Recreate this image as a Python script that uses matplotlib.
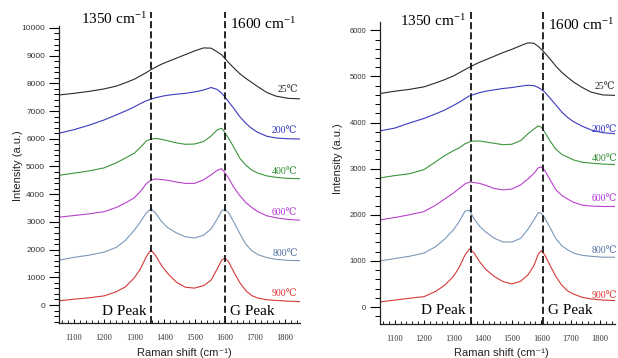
import matplotlib
matplotlib.use("Agg")
import matplotlib.pyplot as plt
from matplotlib.ticker import MultipleLocator
import matplotlib.transforms as mtrans

plt.rcParams['font.family'] = ['Liberation Sans', 'DejaVu Sans']
plt.rcParams['mathtext.fontset'] = 'custom'
plt.rcParams['mathtext.rm'] = 'Liberation Serif'
plt.rcParams['mathtext.it'] = 'Liberation Serif:italic'

# ---------------- data ----------------
wavenumber = [1050, 1100, 1150, 1200, 1240, 1270, 1300, 1320, 1340, 1355, 1370, 1390,
              1410, 1440, 1470, 1500, 1530, 1555, 1575, 1590, 1600, 1612, 1630, 1650,
              1670, 1690, 1710, 1740, 1770, 1810, 1850]

temps = ["25℃", "200℃", "400℃", "600℃", "800℃", "900℃"]

# left panel
left_25 = [7580, 7640, 7710, 7800, 7900, 8020, 8150, 8270, 8390, 8490, 8580, 8690,
           8780, 8910, 9040, 9170, 9280, 9270, 9140, 9030, 8910, 8760, 8560, 8350,
           8180, 8030, 7880, 7670, 7540, 7460, 7440]
left_200 = [6200, 6330, 6490, 6680, 6860, 7000, 7150, 7270, 7370, 7430, 7480, 7530,
            7570, 7610, 7640, 7690, 7760, 7850, 7780, 7650, 7520, 7350, 7100, 6800,
            6560, 6370, 6230, 6090, 6030, 6000, 5990]
left_400 = [4680, 4760, 4840, 4950, 5130, 5300, 5480, 5690, 5920, 5990, 6010, 5980,
            5930, 5850, 5800, 5810, 5900, 6100, 6320, 6380, 6230, 6030, 5700, 5300,
            5050, 4870, 4760, 4660, 4610, 4570, 4560]
left_600 = [3170, 3230, 3290, 3370, 3520, 3680, 3870, 4100, 4380, 4500, 4550, 4530,
            4500, 4440, 4390, 4390, 4520, 4700, 4860, 4920, 4780, 4600, 4250, 3950,
            3700, 3520, 3370, 3220, 3150, 3090, 3060]
left_800 = [1620, 1720, 1800, 1910, 2080, 2330, 2700, 3000, 3330, 3470, 3330, 3020,
            2800, 2600, 2460, 2420, 2520, 2750, 3100, 3400, 3450, 3350, 3000, 2580,
            2200, 1960, 1820, 1710, 1650, 1610, 1600]
left_900 = [150, 210, 260, 330, 480, 650, 980, 1300, 1750, 1980, 1800, 1430,
            1150, 820, 640, 610, 700, 900, 1300, 1620, 1690, 1580, 1200, 810,
            520, 340, 250, 190, 165, 140, 120]

# right panel
right_25 = [4630, 4680, 4720, 4775, 4860, 4930, 5010, 5080, 5150, 5200, 5250, 5310,
            5360, 5440, 5520, 5590, 5670, 5730, 5720, 5650, 5590, 5510, 5380, 5220,
            5090, 4980, 4880, 4760, 4660, 4600, 4590]
right_200 = [3820, 3880, 3990, 4090, 4190, 4270, 4370, 4440, 4520, 4580, 4610, 4650,
             4680, 4710, 4740, 4760, 4790, 4810, 4800, 4760, 4720, 4660, 4530, 4380,
             4230, 4110, 4020, 3920, 3840, 3780, 3760]
right_400 = [2800, 2850, 2890, 2980, 3150, 3280, 3390, 3450, 3540, 3580, 3600, 3600,
             3580, 3550, 3520, 3530, 3610, 3760, 3860, 3930, 3900, 3790, 3600, 3420,
             3310, 3250, 3190, 3140, 3120, 3100, 3090]
right_600 = [1890, 1940, 2000, 2070, 2210, 2340, 2470, 2570, 2670, 2710, 2700, 2680,
             2640, 2570, 2540, 2560, 2650, 2780, 2900, 3020, 3040, 2960, 2760, 2540,
             2420, 2340, 2270, 2210, 2190, 2180, 2180]
right_800 = [1000, 1050, 1100, 1170, 1310, 1470, 1670, 1850, 2080, 2100, 1920, 1750,
             1630, 1490, 1410, 1410, 1490, 1690, 1890, 2050, 2030, 1930, 1720, 1480,
             1330, 1240, 1170, 1120, 1100, 1080, 1080]
right_900 = [110, 150, 190, 225, 340, 470, 660, 860, 1130, 1260, 1180, 980,
             820, 660, 550, 500, 560, 700, 900, 1150, 1220, 1130, 900, 660,
             470, 350, 280, 210, 175, 150, 140]

left_label_x = [1776, 1757, 1757, 1757, 1759, 1757]
left_label_y = [7770, 6300, 4825, 3330, 1860, 420]
right_label_x = [1783, 1770, 1773, 1770, 1773, 1770]
right_label_y = [4790, 3850, 3220, 2360, 1220, 260]

left_peaks = [1357, 1601]
right_peaks = [1359, 1606]
peak_names = ["D Peak", "G Peak"]
peak_positions = ["1350 cm$^{-1}$", "1600 cm$^{-1}$"]

line_colors = ['#2a2a2a', '#3a3abf', '#3c963c', '#b840cc', '#7b98b8', '#d43a3a']
label_colors = ['#2a2a2a', '#3030c8', '#2f8a2f', '#b030d0', '#4a6e9a', '#e03030']

serif = ['Liberation Serif', 'DejaVu Serif']

fig = plt.figure(figsize=(6.18, 3.58), dpi=100)

def setup(ax, ylim, ytick_size, series, peaks, lab_x, lab_y, txt_y, peak_txt_y):
    for vals, lc in zip(series, line_colors):
        ax.plot(wavenumber, vals, color=lc, lw=0.8)
    for t, x, y, c in zip(temps, lab_x, lab_y, label_colors):
        ax.text(x, y, t, color=c, fontsize=7, family=serif, ha='left', va='center',
                clip_on=False)
    ax.set_xlim(1050, 1850)
    ax.set_ylim(*ylim)
    for s in ['top', 'right']:
        ax.spines[s].set_visible(False)
    for s in ['left', 'bottom']:
        ax.spines[s].set_linewidth(0.9)
        ax.spines[s].set_color('#222222')
    ax.yaxis.set_major_locator(MultipleLocator(1000))
    ax.yaxis.set_minor_locator(MultipleLocator(200))
    ax.xaxis.set_major_locator(MultipleLocator(100))
    ax.xaxis.set_minor_locator(MultipleLocator(20))
    ax.tick_params(axis='y', which='major', direction='out', length=7, width=0.8,
                   labelsize=ytick_size, labelcolor='#333333', pad=3)
    ax.tick_params(axis='y', which='minor', direction='out', length=3.5, width=0.7)
    ax.tick_params(axis='x', which='major', direction='in', length=3, width=0.7,
                   labelsize=6, labelcolor='#333333', pad=8)
    ax.tick_params(axis='x', which='minor', direction='in', length=2, width=0.6)
    ax.set_xticks([1100, 1200, 1300, 1400, 1500, 1600, 1700, 1800])
    for lbl in ax.get_xticklabels():
        lbl.set_family(serif)
    trans = mtrans.blended_transform_factory(ax.transData, ax.transAxes)
    for p in peaks:
        ax.plot([p, p], [0, txt_y[2]], transform=trans, color='black', lw=1.2,
                dashes=(4.2, 1.9), clip_on=False)
    ax.text(peaks[0] - 16, txt_y[0], peak_positions[0], transform=trans, ha='right',
            va='center', fontsize=11, family=serif)
    ax.text(peaks[1] + 17, txt_y[1], peak_positions[1], transform=trans, ha='left',
            va='center', fontsize=11, family=serif)
    ax.text(peaks[0] - 16, peak_txt_y, peak_names[0], transform=trans, ha='right',
            va='center', fontsize=11, family=serif)
    ax.text(peaks[1] + 17, peak_txt_y, peak_names[1], transform=trans, ha='left',
            va='center', fontsize=11, family=serif)
    ax.set_xlabel("Raman shift (cm⁻¹)", fontsize=8, color='#222222')
    ax.set_ylabel("Intensity (a.u.)", fontsize=8, color='#222222')
    ax.xaxis.label.set_verticalalignment('center')
    ax.yaxis.label.set_verticalalignment('center')

axL = fig.add_axes([59/618, (358-323.3)/358, 241/618, 297.3/358])
setup(axL, (-660, 10070), 6,
      [left_25, left_200, left_400, left_600, left_800, left_900],
      left_peaks, left_label_x, left_label_y, [1.0235, 1.0067, 1.047], 0.041)
axL.yaxis.set_label_coords(-0.17, 0.53)
axL.xaxis.set_label_coords(0.519, -0.099)

axR = fig.add_axes([380/618, (358-324.3)/358, 234.6/618, 302/358])
setup(axR, (-375, 6175), 5.5,
      [right_25, right_200, right_400, right_600, right_800, right_900],
      right_peaks, right_label_x, right_label_y, [1.005, 0.992, 1.034], 0.045)
axR.yaxis.set_label_coords(-0.179, 0.547)
axR.xaxis.set_label_coords(0.516, -0.095)

fig.savefig("out.png", dpi=100)
